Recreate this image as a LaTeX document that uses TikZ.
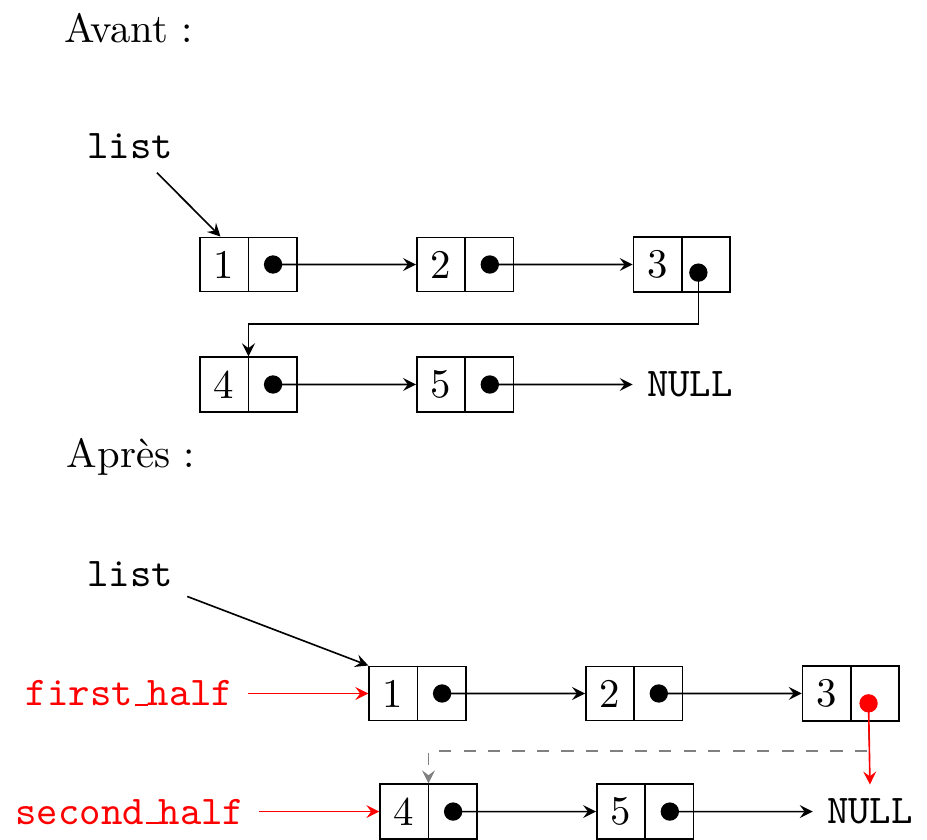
\documentclass[tikz,border=0pt]{standalone}
\usepackage{fontspec}
\usetikzlibrary{positioning,calc,shapes.multipart}
\newcommand\undsc{\kern.06em\vbox{\hrule width.3em}}
\tikzset{
  cell/.style={draw, rectangle split, rectangle split horizontal, rectangle split parts=2},
  ptr/.style={circle, fill, inner sep=0pt, minimum size=4.5pt},
}
\begin{document}
\begin{tikzpicture}[>=stealth, node distance=1.02cm]
 \useasboundingbox (0,0) rectangle (7.991,-7.241);
 % Avant
 \node[anchor=base west,inner sep=0pt] (avant) at (0.552,-0.362) {Avant :};
 \node[anchor=base] (list) at (1.121,-1.362) {\texttt{list}};
 \node[cell] (n1) at (2.142,-2.280) {1\nodepart{two}\phantom{1}};
 \node[cell,right=of n1] (n2) {2\nodepart{two}\phantom{2}};
 \node[cell,right=of n2] (n3) {3\nodepart{two}\phantom{3}};
 \node[cell,below=0.55cm of n1] (n4) {4\nodepart{two}\phantom{4}};
 \node[cell,right=of n4] (n5) {5\nodepart{two}\phantom{5}};
 \node[right=of n5] (null) {\texttt{NULL}};
 \foreach \b in {n1,n2,n4,n5}
   \node[ptr] (d\b) at ($(\b.north east)!.5!(\b.south)$) {};
 \node[ptr] (dn3) at ($(n3.north east)!.5!(n3.south)+(-0.07,-0.07)$) {};
 \coordinate (c34) at ($(n4.north)+(0,0.28)$);
 \draw[->] (list) -- (n1.135);
 \draw[->] (dn1.center) -- (n2.west);
 \draw[->] (dn2.center) -- (n3.west);
 \draw[->] (dn3.center) |- (c34) -- (n4.north);
 \draw[->] (dn4.center) -- (n5.west);
 \draw[->] (dn5.center) -- (null.west);
 % Apres
 \node[anchor=base west,inner sep=0pt] (apres) at (0.569,-4.034) {Après :};
 \node[anchor=base] (list2) at (1.121,-5.060) {\texttt{list}};
 \node[cell] (m1) at (3.599,-5.978) {1\nodepart{two}\phantom{1}};
 \node[cell,right=of m1] (m2) {2\nodepart{two}\phantom{2}};
 \node[cell,right=of m2] (m3) {3\nodepart{two}\phantom{3}};
 \node[cell] (m4) at (3.694,-6.996) {4\nodepart{two}\phantom{4}};
 \node[cell,right=of m4] (m5) {5\nodepart{two}\phantom{5}};
 \node[right=of m5] (null2) {\texttt{NULL}};
 \node[red,left=1.04cm of m1] (fh) {\texttt{first\undsc half}};
 \node[red,left=1.04cm of m4] (sh) {\texttt{second\undsc half}};
 \foreach \b in {m1,m2,m4,m5}
   \node[ptr] (d\b) at ($(\b.north east)!.5!(\b.south)$) {};
 \coordinate (p3) at ($(m3.north east)!.5!(m3.south)+(-0.06,-0.085)$);
 \coordinate (c34b) at ($(m4.north)+(0,0.28)$);
 \draw[->] (list2) -- (m1.north west);
 \draw[red,->] (fh.east) -- (m1.west);
 \draw[red,->] (sh.east) -- (m4.west);
 \draw[->] (dm1.center) -- (m2.west);
 \draw[->] (dm2.center) -- (m3.west);
 \draw[->] (dm4.center) -- (m5.west);
 \draw[->] (dm5.center) -- (null2.west);
 \draw[gray,dashed,->] (p3) |- (c34b) -- (m4.north);
 \draw[red,->] (p3) -- (null2.north);
 \node[ptr,red] (dm3) at (p3) {};
\end{tikzpicture}
\end{document}
